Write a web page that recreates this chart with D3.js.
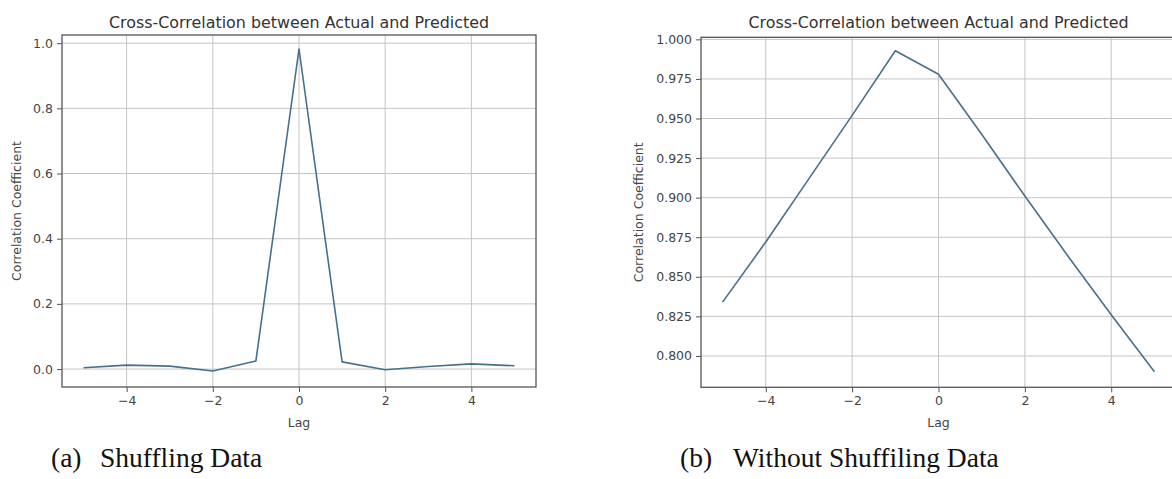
<!DOCTYPE html>
<html>
<head>
<meta charset="utf-8">
<script src="https://cdn.jsdelivr.net/npm/d3@7"></script>
<style>
  html, body { margin: 0; padding: 0; background: #ffffff; }
  svg { display: block; }
  .tick text { font-family: "DejaVu Sans", sans-serif; }
</style>
</head>
<body>
<svg id="fig" width="1172" height="479"></svg>
<script>
// Lags shared by both panels
const lags = [-5, -4, -3, -2, -1, 0, 1, 2, 3, 4, 5];

// Cross-correlation with shuffled data
const corrShuffled = [0.004, 0.012, 0.009, -0.006, 0.025, 0.982, 0.022, -0.002, 0.008, 0.016, 0.010];

// Cross-correlation without shuffling
const corrOrdered = [0.834, 0.872, 0.912, 0.952, 0.9928, 0.978, 0.940, 0.901, 0.863, 0.826, 0.790];

// Axis ticks
const xTicks = [-4, -2, 0, 2, 4];
const yTicksShuffled = [0.0, 0.2, 0.4, 0.6, 0.8, 1.0];
const yTicksOrdered = [0.800, 0.825, 0.850, 0.875, 0.900, 0.925, 0.950, 0.975, 1.000];

const titleText = "Cross-Correlation between Actual and Predicted";

const svg = d3.select("#fig");

function panel(cfg) {
  const g = svg.append("g");
  const x = d3.scaleLinear().domain([-5.5, 5.5]).range([cfg.left, cfg.right]);
  const y = d3.scaleLinear().domain(cfg.yDomain).range([cfg.bottom, cfg.top]);

  // grid
  g.append("g").selectAll("line.vg").data(xTicks).join("line")
    .attr("x1", d => x(d)).attr("x2", d => x(d))
    .attr("y1", cfg.top).attr("y2", cfg.bottom)
    .attr("stroke", "#c4c4c4").attr("stroke-width", 1);
  g.append("g").selectAll("line.hg").data(cfg.yTicks).join("line")
    .attr("x1", cfg.left).attr("x2", cfg.right)
    .attr("y1", d => y(d)).attr("y2", d => y(d))
    .attr("stroke", "#c4c4c4").attr("stroke-width", 1);

  // axes
  const xAxis = d3.axisBottom(x).tickValues(xTicks).tickSize(5).tickPadding(4)
    .tickFormat(d => d < 0 ? "\u2212" + Math.abs(d) : String(d));
  const gx = g.append("g").attr("transform", `translate(0,${cfg.bottom})`).call(xAxis);
  const yAxis = d3.axisLeft(y).tickValues(cfg.yTicks).tickSize(5).tickPadding(4)
    .tickFormat(d3.format(cfg.yFormat));
  const gy = g.append("g").attr("transform", `translate(${cfg.left},0)`).call(yAxis);
  [gx, gy].forEach(a => {
    a.select(".domain").remove();
    a.selectAll(".tick line").attr("stroke", "#555").attr("stroke-width", 1);
    a.selectAll(".tick text").attr("fill", "#444").style("font-size", "12.5px");
  });

  // frame
  g.append("rect")
    .attr("x", cfg.left).attr("y", cfg.top)
    .attr("width", cfg.right - cfg.left).attr("height", cfg.bottom - cfg.top)
    .attr("fill", "none").attr("stroke", "#555").attr("stroke-width", 1.3);

  // series
  const line = d3.line().x((d, i) => x(lags[i])).y(d => y(d));
  g.append("path").datum(cfg.values)
    .attr("d", line)
    .attr("fill", "none")
    .attr("stroke", "#46708c")
    .attr("stroke-width", 1.6)
    .attr("stroke-linejoin", "round");

  // labels
  const mid = (cfg.left + cfg.right) / 2;
  g.append("text").attr("x", mid).attr("y", 28)
    .attr("text-anchor", "middle")
    .style("font-family", "'DejaVu Sans', sans-serif").style("font-size", "15.9px")
    .attr("fill", "#333").text(titleText);
  g.append("text").attr("x", mid).attr("y", 427)
    .attr("text-anchor", "middle")
    .style("font-family", "'DejaVu Sans', sans-serif").style("font-size", "12.5px")
    .attr("fill", "#444").text("Lag");
  g.append("text")
    .attr("transform", `translate(${cfg.ylabelX},${(cfg.top + cfg.bottom) / 2}) rotate(-90)`)
    .attr("text-anchor", "middle")
    .style("font-family", "'DejaVu Sans', sans-serif").style("font-size", "12.5px")
    .attr("fill", "#444").text("Correlation Coefficient");

  // caption
  const cap = svg.append("text").attr("y", 467)
    .style("font-family", "'Liberation Serif', 'Times New Roman', serif")
    .style("font-size", "27.5px").attr("fill", "#111");
  cap.append("tspan").attr("x", cfg.capX).text(cfg.capTag);
  cap.append("tspan").attr("x", cfg.capX + cfg.capGap).text(cfg.capText);
}

panel({
  left: 62, right: 536, top: 35, bottom: 387,
  yDomain: [-0.055, 1.025],
  yTicks: yTicksShuffled, yFormat: ".1f",
  values: corrShuffled,
  ylabelX: 21,
  capX: 51, capGap: 49, capTag: "(a)", capText: "Shuffling Data"
});

panel({
  left: 701, right: 1176, top: 37.3, bottom: 387.3,
  yDomain: [0.7802, 1.0013],
  yTicks: yTicksOrdered, yFormat: ".3f",
  values: corrOrdered,
  ylabelX: 643,
  capX: 680, capGap: 53, capTag: "(b)", capText: "Without Shuffiling Data"
});
</script>
</body>
</html>
